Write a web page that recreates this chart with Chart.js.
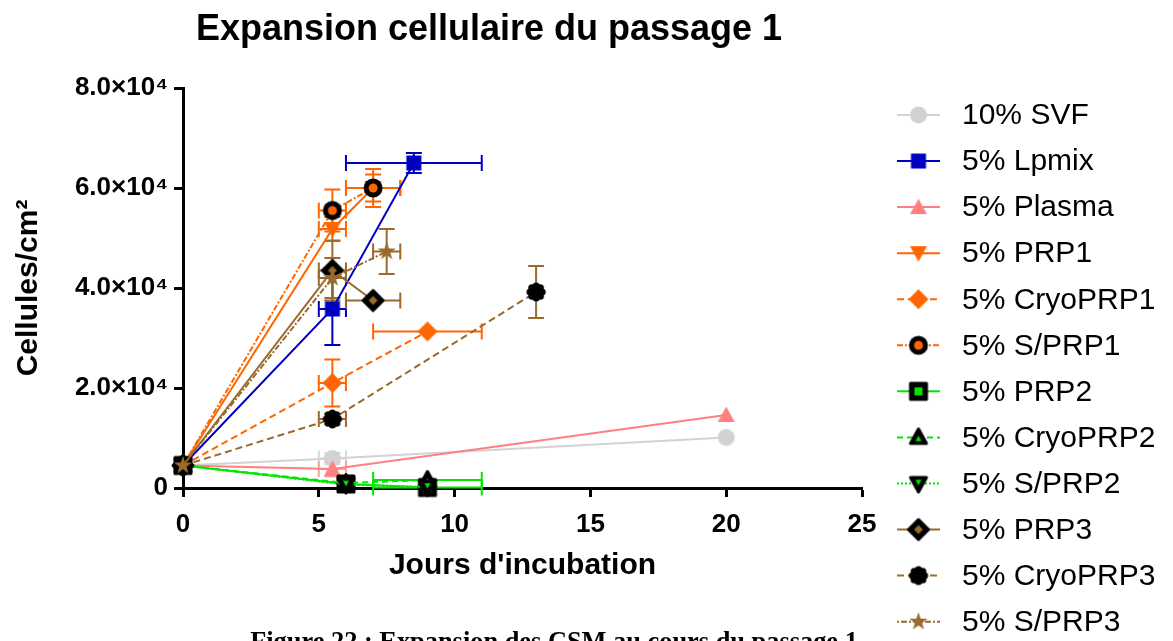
<!DOCTYPE html>
<html>
<head>
<meta charset="utf-8">
<script src="https://cdn.jsdelivr.net/npm/chart.js@4/dist/chart.umd.min.js"></script>
<style>
  html, body { margin: 0; padding: 0; background: #ffffff; }
  #wrap { width: 1173px; height: 641px; }
</style>
</head>
<body>
<div id="wrap"><canvas id="growth" width="1173" height="641"></canvas></div>
<script>
// ---- Data: days of incubation, cells/cm², and their error margins ----
const svfDays = [0, 5.5, 20];
const svfCells = [4500, 5900, 10100];
const svfDaysErr = [0, 0.5, 0];
const svfCellsErr = [0, 1100, 0];

const lpmixDays = [0, 5.5, 8.5];
const lpmixCells = [4500, 35800, 65000];
const lpmixDaysErr = [0, 0.5, 2.5];
const lpmixCellsErr = [0, 7200, 2000];

const plasmaDays = [0, 5.5, 20];
const plasmaCells = [4500, 3800, 14600];
const plasmaDaysErr = [0, 0.5, 0];
const plasmaCellsErr = [0, 1500, 0];

const prp1Days = [0, 5.5, 7];
const prp1Cells = [4500, 51800, 60000];
const prp1DaysErr = [0, 0.5, 1];
const prp1CellsErr = [0, 2400, 2700];

const cryoPrp1Days = [0, 5.5, 9];
const cryoPrp1Cells = [4500, 21000, 31300];
const cryoPrp1DaysErr = [0, 0.5, 2];
const cryoPrp1CellsErr = [0, 4700, 0];

const sPrp1Days = [0, 5.5, 7];
const sPrp1Cells = [4500, 55500, 60000];
const sPrp1DaysErr = [0, 0.5, 1];
const sPrp1CellsErr = [0, 4200, 3800];

const prp2Days = [0, 6, 9];
const prp2Cells = [4500, 800, 100];
const prp2DaysErr = [0, 0, 2];
const prp2CellsErr = [0, 0, 0];

const cryoPrp2Days = [0, 6, 9];
const cryoPrp2Cells = [4500, 1000, 1600];
const cryoPrp2DaysErr = [0, 0, 2];
const cryoPrp2CellsErr = [0, 0, 0];

const sPrp2Days = [0, 6, 9];
const sPrp2Cells = [4500, 700, 200];
const sPrp2DaysErr = [0, 0, 0];
const sPrp2CellsErr = [0, 0, 0];

const prp3Days = [0, 5.5, 7];
const prp3Cells = [4500, 43500, 37500];
const prp3DaysErr = [0, 0.5, 1];
const prp3CellsErr = [0, 6000, 0];

const cryoPrp3Days = [0, 5.5, 13];
const cryoPrp3Cells = [4500, 13800, 39200];
const cryoPrp3DaysErr = [0, 0.5, 0];
const cryoPrp3CellsErr = [0, 1000, 5200];

const sPrp3Days = [0, 5.5, 7.5];
const sPrp3Cells = [4500, 42000, 47300];
const sPrp3DaysErr = [0, 0.5, 0.5];
const sPrp3CellsErr = [0, 4000, 4500];

const seriesLabels = ['10% SVF', '5% Lpmix', '5% Plasma', '5% PRP1', '5% CryoPRP1', '5% S/PRP1',
                      '5% PRP2', '5% CryoPRP2', '5% S/PRP2', '5% PRP3', '5% CryoPRP3', '5% S/PRP3'];
const dayTicks = [0, 5, 10, 15, 20, 25];
const cellTickLabels = ['0', '2.0×10⁴', '4.0×10⁴', '6.0×10⁴', '8.0×10⁴'];

// ---- Colours ----
const GREY = '#d2d2d2', BLUE = '#0000c0', PINK = '#ff8080', ORANGE = '#ff6600',
      GREEN = '#00e600', BROWN = '#9a6a2c', BLACK = '#000000';

// ---- Marker glyphs drawn on small canvases ----
function glyph(size, paint) {
  const c = document.createElement('canvas');
  c.width = c.height = size;
  const g = c.getContext('2d');
  g.translate(size / 2, size / 2);
  paint(g);
  return c;
}
function path(g, pts) {
  g.beginPath();
  pts.forEach(([x, y], k) => k ? g.lineTo(x, y) : g.moveTo(x, y));
  g.closePath();
}
function disc(g, r, fill) { g.beginPath(); g.arc(0, 0, r, 0, Math.PI * 2); g.fillStyle = fill; g.fill(); }
function roundedShape(g, pts, outer, inner, innerPts) {
  g.lineJoin = 'round';
  path(g, pts); g.fillStyle = outer; g.fill();
  g.lineWidth = 3; g.strokeStyle = outer; g.stroke();
  if (inner) { path(g, innerPts); g.fillStyle = inner; g.fill(); }
}
const scalePts = (pts, k) => pts.map(([x, y]) => [x * k, y * k]);
const triUp = [[0, -8.5], [8, 6], [-8, 6]];
const triDown = [[0, 8.5], [8, -6], [-8, -6]];
const diamond = [[0, -10], [10, 0], [0, 10], [-10, 0]];

const markers = [
  glyph(22, g => disc(g, 8.5, GREY)),
  glyph(22, g => { g.fillStyle = BLUE; g.fillRect(-7.5, -7.5, 15, 15); }),
  glyph(22, g => { path(g, [[0, -8.5], [8.5, 7], [-8.5, 7]]); g.fillStyle = PINK; g.fill(); }),
  glyph(22, g => { path(g, [[0, 8.5], [8.5, -7], [-8.5, -7]]); g.fillStyle = ORANGE; g.fill(); }),
  glyph(24, g => { path(g, diamond); g.fillStyle = ORANGE; g.fill(); }),
  glyph(24, g => { disc(g, 9.5, BLACK); disc(g, 4.5, ORANGE); }),
  glyph(26, g => roundedShape(g, [[-8, -8], [8, -8], [8, 8], [-8, 8]], BLACK, GREEN, [[-4, -4], [4, -4], [4, 4], [-4, 4]])),
  glyph(26, g => roundedShape(g, triUp, BLACK, GREEN, scalePts(triUp, 0.38).map(([x, y]) => [x, y + 1.5]))),
  glyph(26, g => roundedShape(g, triDown, BLACK, GREEN, scalePts(triDown, 0.38).map(([x, y]) => [x, y - 1.5]))),
  glyph(28, g => roundedShape(g, diamond, BLACK, BROWN, scalePts(diamond, 0.45))),
  glyph(26, g => {
    disc(g, 6.5, BLACK);
    for (let k = 0; k < 8; k++) {
      const a = k * Math.PI / 4;
      g.beginPath(); g.arc(Math.cos(a) * 6, Math.sin(a) * 6, 3.6, 0, Math.PI * 2); g.fill();
    }
  }),
  glyph(22, g => {
    const pts = [];
    for (let k = 0; k < 10; k++) {
      const r = k % 2 ? 3.8 : 9.5, a = -Math.PI / 2 + k * Math.PI / 5;
      pts.push([Math.cos(a) * r, Math.sin(a) * r]);
    }
    path(g, pts); g.fillStyle = BROWN; g.fill();
  })
];

const lineColors = [GREY, BLUE, PINK, ORANGE, ORANGE, ORANGE, GREEN, GREEN, GREEN, BROWN, BROWN, BROWN];
const errColors = ['#d8d8d8', BLUE, '#ffa0a0', ORANGE, ORANGE, ORANGE, GREEN, GREEN, GREEN, BROWN, BROWN, BROWN];
const dashes = [[], [], [], [], [7, 4], [6, 2, 2, 2], [], [6, 4], [2, 2], [], [7, 4], [2, 2, 6, 2]];

const daysAll = [svfDays, lpmixDays, plasmaDays, prp1Days, cryoPrp1Days, sPrp1Days,
                 prp2Days, cryoPrp2Days, sPrp2Days, prp3Days, cryoPrp3Days, sPrp3Days];
const cellsAll = [svfCells, lpmixCells, plasmaCells, prp1Cells, cryoPrp1Cells, sPrp1Cells,
                  prp2Cells, cryoPrp2Cells, sPrp2Cells, prp3Cells, cryoPrp3Cells, sPrp3Cells];
const daysErrAll = [svfDaysErr, lpmixDaysErr, plasmaDaysErr, prp1DaysErr, cryoPrp1DaysErr, sPrp1DaysErr,
                    prp2DaysErr, cryoPrp2DaysErr, sPrp2DaysErr, prp3DaysErr, cryoPrp3DaysErr, sPrp3DaysErr];
const cellsErrAll = [svfCellsErr, lpmixCellsErr, plasmaCellsErr, prp1CellsErr, cryoPrp1CellsErr, sPrp1CellsErr,
                     prp2CellsErr, cryoPrp2CellsErr, sPrp2CellsErr, prp3CellsErr, cryoPrp3CellsErr, sPrp3CellsErr];

const datasets = seriesLabels.map((label, i) => ({
  label,
  data: daysAll[i].map((d, j) => ({ x: d, y: cellsAll[i][j] })),
  showLine: true,
  borderColor: lineColors[i],
  borderWidth: 2,
  borderDash: dashes[i],
  tension: 0,
  pointStyle: markers[i],
  pointRadius: 10,
  pointHoverRadius: 10,
  order: seriesLabels.length - i,
  clip: false,
  errX: daysErrAll[i],
  errY: cellsErrAll[i],
  errColor: errColors[i]
}));

// Error bars (horizontal and vertical, with caps) drawn under the series
const errorBars = {
  id: 'errorBars',
  beforeDatasetsDraw(chart) {
    const { ctx, scales: { x, y } } = chart;
    const cap = 8;
    ctx.save();
    ctx.lineWidth = 2;
    chart.data.datasets.forEach(ds => {
      ctx.strokeStyle = ds.errColor;
      ds.data.forEach((p, j) => {
        const px = x.getPixelForValue(p.x), py = y.getPixelForValue(p.y);
        const ey = ds.errY[j], ex = ds.errX[j];
        if (ey > 0) {
          const t = y.getPixelForValue(p.y + ey), b = y.getPixelForValue(p.y - ey);
          ctx.beginPath();
          ctx.moveTo(px, t); ctx.lineTo(px, b);
          ctx.moveTo(px - cap, t); ctx.lineTo(px + cap, t);
          ctx.moveTo(px - cap, b); ctx.lineTo(px + cap, b);
          ctx.stroke();
        }
        if (ex > 0) {
          const l = x.getPixelForValue(p.x - ex), r = x.getPixelForValue(p.x + ex);
          ctx.beginPath();
          ctx.moveTo(l, py); ctx.lineTo(r, py);
          ctx.moveTo(l, py - cap); ctx.lineTo(l, py + cap);
          ctx.moveTo(r, py - cap); ctx.lineTo(r, py + cap);
          ctx.stroke();
        }
      });
    });
    ctx.restore();
  }
};

// Heading, figure caption and the series key on the right
const decorations = {
  id: 'decorations',
  afterDraw(chart) {
    const ctx = chart.ctx;
    ctx.save();
    ctx.fillStyle = '#000';
    ctx.textAlign = 'center';
    ctx.textBaseline = 'alphabetic';
    ctx.font = 'bold 36px "Liberation Sans", Arial, sans-serif';
    ctx.fillText('Expansion cellulaire du passage 1', 489, 40);

    ctx.font = 'bold 22px "Liberation Serif", "Times New Roman", serif';
    const caption = 'Figure 22 : Expansion des CSM au cours du passage 1';
    const w = ctx.measureText(caption).width;
    ctx.font = 'bold ' + (22 * 608 / w).toFixed(2) + 'px "Liberation Serif", "Times New Roman", serif';
    ctx.fillText(caption, 554, 650);

    ctx.textAlign = 'left';
    ctx.textBaseline = 'middle';
    ctx.font = '30px "Liberation Sans", Arial, sans-serif';
    chart.data.datasets.forEach((ds, i) => {
      const cy = 115 + i * 46.06;
      ctx.save();
      ctx.strokeStyle = ds.borderColor;
      ctx.lineWidth = 2;
      ctx.setLineDash(ds.borderDash);
      ctx.beginPath(); ctx.moveTo(897, cy); ctx.lineTo(940, cy); ctx.stroke();
      ctx.restore();
      const m = ds.pointStyle;
      ctx.drawImage(m, 918.5 - m.width / 2, cy - m.height / 2);
      ctx.fillStyle = '#000';
      ctx.fillText(ds.label, 962, cy + 1);
    });
    ctx.restore();
  }
};

const tickFont = { family: '"Liberation Sans", Arial, sans-serif', size: 26, weight: 'bold' };
const titleFont = { family: '"Liberation Sans", Arial, sans-serif', size: 30, weight: 'bold' };

new Chart(document.getElementById('growth'), {
  type: 'scatter',
  data: { datasets },
  options: {
    responsive: false,
    animation: false,
    events: [],
    layout: { padding: { left: 0, top: 88, right: 311, bottom: 53 } },
    plugins: { legend: { display: false }, tooltip: { enabled: false }, title: { display: false } },
    scales: {
      x: {
        type: 'linear', min: 0, max: 25,
        afterBuildTicks: s => { s.ticks = dayTicks.map(v => ({ value: v })); },
        ticks: { font: tickFont, color: '#000', padding: 12, maxRotation: 0, callback: v => String(v) },
        grid: { drawOnChartArea: false, tickLength: 9, tickWidth: 3, tickColor: '#000' },
        border: { color: '#000', width: 3 },
        title: { display: true, text: "Jours d'incubation", font: titleFont, color: '#000', padding: { top: 0, bottom: 4 } },
        afterFit: s => { s.height = 100; s.paddingLeft = 0; s.paddingRight = 0; }
      },
      y: {
        type: 'linear', min: 0, max: 80000,
        afterBuildTicks: s => { s.ticks = [0, 20000, 40000, 60000, 80000].map(v => ({ value: v })); },
        ticks: { font: tickFont, color: '#000', padding: 6, callback: (v, i) => cellTickLabels[i] },
        grid: { drawOnChartArea: false, tickLength: 9, tickWidth: 3, tickColor: '#000' },
        border: { color: '#000', width: 3 },
        title: { display: true, text: 'Cellules/cm²', font: titleFont, color: '#000', padding: { top: 11, bottom: 0 } },
        afterFit: s => { s.width = 183; s.paddingTop = 0; s.paddingBottom = 0; }
      }
    }
  },
  plugins: [errorBars, decorations]
});
</script>
</body>
</html>
